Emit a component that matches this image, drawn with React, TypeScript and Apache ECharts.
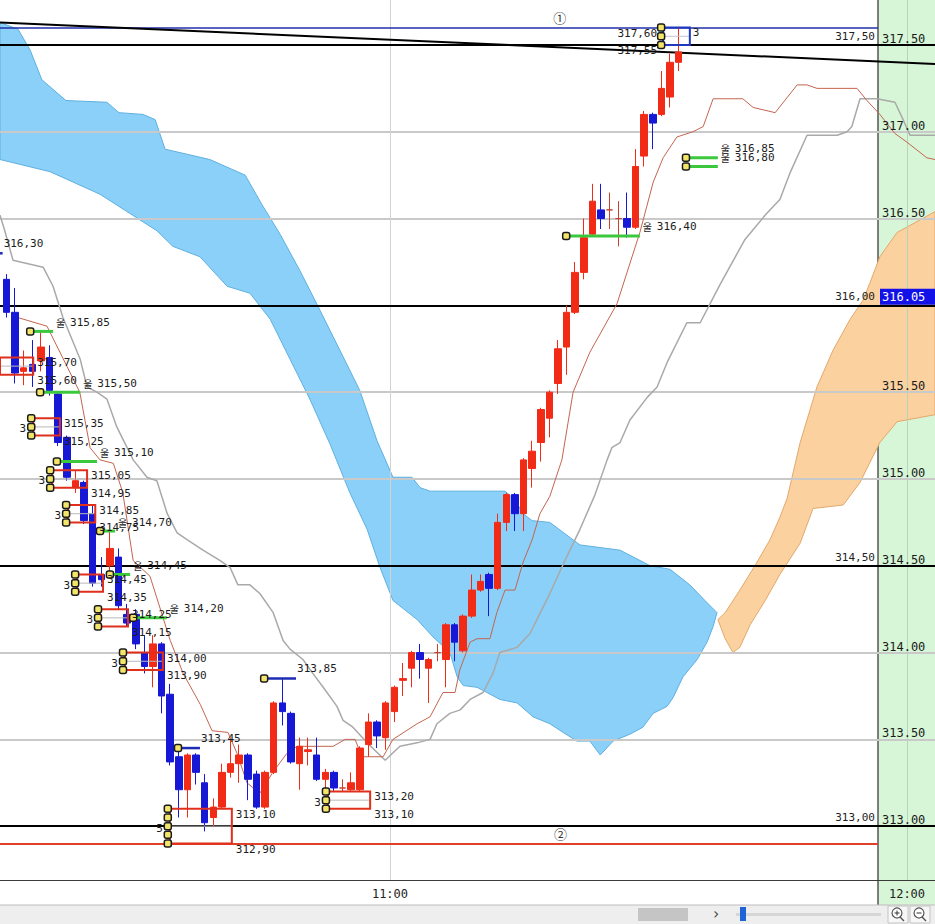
import React, { useEffect, useRef } from "react";
import * as echarts from "echarts";

// ---- time / price frame ----
const START_MINUTE = 10 * 60 + 15; // bar 0 = 10:15, one bar per minute
const X_MIN = -0.755;
const X_MAX = 107.75;
const Y_MIN = 312.69;
const Y_MAX = 317.759;

const timeTicks = ["11:00", "12:00"];
// the 316.00 scale label sits under the last-price tag, so it is left out
const priceTicks = [313.0, 313.5, 314.0, 314.5, 315.0, 315.5, 316.5, 317.0, 317.5];
const gridPrices = [313.5, 314.0, 315.0, 315.5, 316.5, 317.0];
const keyPrices = [313.0, 314.5, 316.0, 317.5];
const highLine = 317.6;
const lowLine = 312.9;
const lastTag = 316.05;
const trendLine = [
  [-0.755, 317.63],
  [107.75, 317.39],
];

// [open, close, low, high]
const candles = [
  [316.15, 315.96, 315.93, 316.18],
  [315.96, 315.61, 315.55, 316.1],
  [315.62, 315.64, 315.54, 315.74],
  [315.66, 315.62, 315.53, 315.8],
  [315.68, 315.76, 315.62, 315.85],
  [315.7, 315.51, 315.48, 315.77],
  [315.49, 315.21, 315.19, 315.5],
  [315.24, 315.01, 314.99, 315.25],
  [314.95, 314.99, 314.92, 315.05],
  [314.98, 314.76, 314.74, 314.99],
  [314.8, 314.4, 314.38, 314.85],
  [314.45, 314.42, 314.38, 314.55],
  [314.5, 314.6, 314.45, 314.7],
  [314.55, 314.27, 314.25, 314.6],
  [314.22, 314.17, 314.15, 314.28],
  [314.22, 314.05, 314.02, 314.25],
  [314.0, 313.92, 313.88, 314.1],
  [313.92, 314.05, 313.8, 314.1],
  [314.05, 313.75, 313.65, 314.06],
  [313.76, 313.37, 313.35, 313.82],
  [313.4, 313.21, 313.05, 313.45],
  [313.21, 313.41, 313.05, 313.42],
  [313.41, 313.31, 313.24, 313.42],
  [313.25, 313.02, 312.97, 313.3],
  [313.05, 313.11, 313.0, 313.16],
  [313.11, 313.31, 313.1, 313.36],
  [313.31, 313.36, 313.28, 313.5],
  [313.36, 313.41, 313.25, 313.47],
  [313.41, 313.27, 313.15, 313.42],
  [313.3, 313.11, 313.1, 313.32],
  [313.11, 313.31, 313.1, 313.32],
  [313.31, 313.71, 313.3, 313.72],
  [313.71, 313.66, 313.58, 313.85],
  [313.65, 313.37, 313.36, 313.66],
  [313.36, 313.46, 313.21, 313.51],
  [313.43, 313.44, 313.35, 313.51],
  [313.41, 313.27, 313.26, 313.51],
  [313.27, 313.31, 313.2, 313.33],
  [313.31, 313.22, 313.2, 313.32],
  [313.22, 313.22, 313.2, 313.27],
  [313.21, 313.25, 313.2, 313.31],
  [313.21, 313.45, 313.2, 313.46],
  [313.47, 313.6, 313.4, 313.65],
  [313.6, 313.52, 313.45, 313.61],
  [313.51, 313.71, 313.44, 313.72],
  [313.66, 313.8, 313.6, 313.81],
  [313.84, 313.85, 313.75, 313.94],
  [313.91, 314.0, 313.8, 314.01],
  [314.0, 313.96, 313.85, 314.05],
  [313.91, 313.96, 313.71, 313.97],
  [314.0, 314.0, 313.95, 314.05],
  [313.96, 314.16, 313.8, 314.17],
  [314.16, 314.06, 313.95, 314.17],
  [314.01, 314.21, 314.0, 314.22],
  [314.21, 314.36, 314.2, 314.45],
  [314.36, 314.41, 314.35, 314.45],
  [314.45, 314.37, 314.21, 314.46],
  [314.37, 314.75, 314.36, 314.8],
  [314.75, 314.91, 314.7, 314.92],
  [314.91, 314.8, 314.7, 314.92],
  [314.8, 315.11, 314.7, 315.12],
  [315.06, 315.16, 314.95, 315.22],
  [315.21, 315.4, 315.1, 315.41],
  [315.35, 315.5, 315.24, 315.51],
  [315.55, 315.75, 315.49, 315.8],
  [315.76, 315.96, 315.6, 316.0],
  [315.96, 316.19, 315.95, 316.25],
  [316.19, 316.39, 316.15, 316.5],
  [316.41, 316.6, 316.4, 316.7],
  [316.55, 316.5, 316.44, 316.7],
  [316.55, 316.55, 316.44, 316.65],
  [316.5, 316.5, 316.34, 316.6],
  [316.5, 316.45, 316.39, 316.65],
  [316.45, 316.8, 316.44, 316.9],
  [316.86, 317.1, 316.8, 317.12],
  [317.1, 317.05, 316.9, 317.11],
  [317.1, 317.25, 317.09, 317.35],
  [317.2, 317.4, 317.14, 317.45],
  [317.4, 317.46, 317.35, 317.6],
];

// [bar, price]
const fastLine = [
  [1.3, 315.93], [4.7, 315.88], [8.5, 315.5], [9.7, 315.18], [10.85, 315.11], [12.4, 315.09],
  [13.5, 314.92], [14.7, 314.53], [16.65, 314.44], [19.0, 314.07], [20.5, 313.88], [22.5, 313.7],
  [23.85, 313.55], [25.7, 313.54], [26.75, 313.42], [27.9, 313.25], [29.4, 313.19], [30.9, 313.31],
  [32.55, 313.42], [33.7, 313.46], [37.9, 313.46], [39.3, 313.5], [40.45, 313.5], [41.25, 313.4],
  [43.7, 313.4], [44.85, 313.5], [47.65, 313.59], [49.15, 313.63], [50.65, 313.77], [52.05, 313.77],
  [52.6, 313.9], [53.8, 314.06], [54.6, 314.08], [56.1, 314.08], [56.9, 314.23], [57.85, 314.36],
  [59.0, 314.36], [59.95, 314.52], [61.0, 314.65], [61.9, 314.8], [63.05, 314.9], [64.45, 315.11],
  [65.75, 315.5], [67.7, 315.73], [70.85, 316.01], [73.5, 316.42], [75.05, 316.71], [76.2, 316.85],
  [77.8, 316.97], [79.65, 317.0], [80.85, 317.03], [82.0, 317.19], [85.45, 317.19], [86.65, 317.14],
  [89.2, 317.11], [91.75, 317.27], [92.9, 317.27], [94.05, 317.25], [98.7, 317.25], [99.85, 317.18],
  [101.35, 317.1], [103.1, 316.99], [104.5, 316.94], [106.8, 316.85], [107.75, 316.84],
];

const slowLine = [
  [-0.755, 316.52], [-0.2, 316.43], [0.75, 316.26], [4.25, 316.22], [5.4, 316.11], [6.55, 315.93],
  [8.55, 315.69], [9.35, 315.53], [10.5, 315.5], [11.65, 315.46], [12.8, 315.3], [14.7, 315.11],
  [16.3, 315.01], [17.45, 314.99], [18.65, 314.8], [19.8, 314.69], [20.95, 314.65], [22.8, 314.59],
  [24.8, 314.53], [25.95, 314.49], [26.85, 314.39], [28.25, 314.39], [29.4, 314.34], [30.95, 314.23],
  [32.1, 314.07], [32.9, 314.02], [34.4, 313.96], [35.55, 313.88], [36.75, 313.8], [38.35, 313.69],
  [39.05, 313.61], [40.2, 313.57], [41.85, 313.48], [43.95, 313.38], [45.65, 313.46], [47.65, 313.48],
  [49.15, 313.5], [49.95, 313.59], [51.45, 313.65], [52.65, 313.67], [53.8, 313.73], [55.3, 313.77],
  [56.45, 313.88], [57.25, 314.0], [59.25, 314.03], [60.75, 314.11], [61.55, 314.19], [63.05, 314.34],
  [64.8, 314.53], [66.55, 314.71], [68.3, 314.91], [69.7, 315.11], [70.25, 315.18], [71.2, 315.21],
  [72.35, 315.34], [74.35, 315.47], [75.5, 315.53], [76.65, 315.67], [78.95, 315.9], [80.5, 315.9],
  [82.8, 316.12], [85.7, 316.38], [88.05, 316.52], [89.75, 316.61], [90.9, 316.76], [92.9, 316.98],
  [96.4, 316.98], [97.55, 317.0], [98.1, 317.03], [99.05, 317.19], [101.0, 317.19], [103.1, 317.17],
  [104.05, 317.07], [104.85, 316.98], [107.75, 316.98],
];

const blueCloudTop = [
  [-0.755, 317.63], [1.35, 317.59], [2.75, 317.47], [4.1, 317.3], [6.9, 317.18], [11.65, 317.17],
  [13.05, 317.11], [15.85, 317.1], [17.25, 317.07], [18.4, 316.9], [23.6, 316.84], [27.7, 316.75],
  [29.65, 316.58], [31.75, 316.41], [34.05, 316.2], [36.4, 315.97], [38.7, 315.74], [41.0, 315.51],
  [43.0, 315.22], [44.85, 315.01], [47.05, 315.01], [48.0, 314.95], [49.15, 314.93], [57.85, 314.93],
  [59.0, 314.88], [59.95, 314.8], [61.0, 314.76], [63.05, 314.75], [66.55, 314.62], [71.2, 314.59],
  [74.7, 314.5], [77.0, 314.48], [79.3, 314.39], [81.05, 314.3], [82.45, 314.23],
];
const blueCloudBottom = [
  [-0.755, 316.84], [5.05, 316.77], [10.85, 316.64], [17.45, 316.43], [19.3, 316.34], [22.45, 316.28],
  [25.6, 316.11], [28.25, 316.07], [30.6, 315.92], [32.9, 315.69], [35.2, 315.46], [37.55, 315.2],
  [39.85, 314.92], [41.85, 314.71], [43.35, 314.49], [44.85, 314.3], [47.65, 314.19], [49.5, 314.09],
  [51.45, 314.0], [52.3, 313.86], [53.0, 313.81], [54.6, 313.8], [55.75, 313.77], [57.25, 313.73],
  [59.25, 313.71], [61.1, 313.63], [63.05, 313.59], [64.6, 313.54], [66.2, 313.49], [67.7, 313.49],
  [68.9, 313.41], [70.4, 313.49], [72.35, 313.53], [73.85, 313.57], [75.05, 313.65], [76.65, 313.69],
  [77.35, 313.74], [78.5, 313.86], [80.15, 313.96], [81.3, 314.06], [82.0, 314.15], [82.45, 314.23],
];
const orangeCloudTop = [
  [82.55, 314.19], [83.4, 314.23], [85.1, 314.36], [86.85, 314.5], [88.6, 314.65], [89.75, 314.78],
  [90.6, 314.89], [92.1, 315.21], [94.05, 315.53], [95.9, 315.74], [97.9, 315.92], [99.4, 316.03],
  [100.2, 316.13], [101.35, 316.28], [103.35, 316.42], [105.2, 316.47], [107.75, 316.54],
];
const orangeCloudBottom = [
  [82.55, 314.19], [83.4, 314.08], [84.3, 314.0], [85.1, 314.03], [86.3, 314.16], [88.05, 314.3],
  [89.75, 314.45], [92.1, 314.63], [93.6, 314.83], [97.1, 314.85], [99.05, 314.98], [101.35, 315.21],
  [103.35, 315.33], [107.75, 315.37],
];

// [fromBar, toBar, price]
const greenMarks = [
  [2.75, 5.4, 315.85],
  [3.9, 8.55, 315.5],
  [5.85, 10.5, 315.1],
  [10.85, 12.6, 314.7],
  [12.0, 14.35, 314.45],
  [14.7, 18.6, 314.2],
  [64.95, 73.5, 316.4],
  [78.85, 82.55, 316.85],
  [78.85, 82.55, 316.8],
];
const blueMarks = [
  [-3.0, -0.45, 316.3],
  [19.9, 22.45, 313.45],
  [29.9, 33.6, 313.85],
];
// [fromBar, toBar, top, bottom, count]
const redBoxes = [
  [-0.755, 3.1, 315.7, 315.6, 0],
  [3.1, 6.2, 315.35, 315.25, 3],
  [5.3, 9.35, 315.05, 314.95, 3],
  [7.15, 10.3, 314.85, 314.75, 3],
  [8.2, 11.2, 314.45, 314.35, 3],
  [10.85, 14.1, 314.25, 314.15, 3],
  [13.75, 18.15, 314.0, 313.9, 3],
  [18.95, 26.15, 313.1, 312.9, 5],
  [37.3, 42.2, 313.2, 313.1, 3],
];
// [fromBar, toBar, top, bottom, count, lowerQuote]
const capBoxes = [[76.2, 79.3, 317.6, 317.5, 3, 317.55]];
// [bar, price]
const noteSpots = [
  [64.2, 317.66],
  [64.3, 312.955],
];
const noteTexts = ["①", "②"];

// ---- styling ----
const MONO = '"DejaVu Sans Mono", monospace';
const KR = '"Noto Sans CJK KR", sans-serif';
const UP = "#f22b17";
const DOWN = "#1717d6";
const PANEL_X = 878;
const PANEL_BAR = X_MIN + (PANEL_X / 935) * (X_MAX - X_MIN);

const fmtComma = (v: number) => v.toFixed(2).replace(".", ",");
const tickToBar = (t: string) => {
  const [h, m] = t.split(":").map(Number);
  return h * 60 + m - START_MINUTE - 0.5;
};

function textEl(x: number, y: number, text: string, opts: any = {}) {
  const align = opts.align ?? "left";
  return {
    type: "text",
    x,
    y,
    z2: 10,
    style: {
      text,
      fill: opts.color ?? "#1c1c1c",
      font: `${opts.size ?? 11}px ${opts.family ?? MONO}`,
      align,
      verticalAlign: "middle",
      textAlign: align,
      textVerticalAlign: "middle",
    },
  };
}

function dotEl(cx: number, cy: number) {
  return {
    type: "rect",
    z2: 8,
    shape: { x: cx - 3.5, y: cy - 3.5, width: 7, height: 7, r: 2 },
    style: { fill: "#f3e46a", stroke: "#1b1b1b", lineWidth: 1.5 },
  };
}

function cloudSeries(top: number[][], bottom: number[][], fill: string, stroke: string) {
  return {
    type: "custom",
    silent: true,
    z: 1,
    data: [top[0]],
    encode: { x: 0, y: 1 },
    renderItem: (_p: any, api: any) => ({
      type: "polygon",
      shape: { points: [...top, ...bottom.slice().reverse()].map((p) => api.coord(p)) },
      style: { fill, stroke, lineWidth: 1 },
    }),
  };
}

function hSeg(a: number, b: number, price: number, color: string, width: number, labelled = false) {
  return [
    {
      coord: [a, price],
      lineStyle: { color, width, type: "solid" },
      label: labelled
        ? {
            show: true,
            position: "insideEndTop",
            formatter: fmtComma(price),
            color: "#1e1e1e",
            fontSize: 11,
            fontFamily: MONO,
            distance: 3,
          }
        : { show: false },
    },
    { coord: [b, price] },
  ];
}

function buildOption() {
  const markLines: any[] = [];
  gridPrices.forEach((p) => markLines.push(hSeg(X_MIN, X_MAX, p, "#c9c9c9", 2)));
  timeTicks.forEach((t, i) => {
    const bar = tickToBar(t);
    markLines.push([
      { coord: [bar, Y_MIN], lineStyle: { color: i === 0 ? "#d2d2d2" : "#b8d4b8", width: 1, type: "solid" }, label: { show: false } },
      { coord: [bar, Y_MAX] },
    ]);
  });
  keyPrices.forEach((p) => {
    markLines.push(hSeg(X_MIN, PANEL_BAR, p, "#000", 2, true));
    markLines.push(hSeg(PANEL_BAR, X_MAX, p, "#000", 2));
  });
  markLines.push(hSeg(X_MIN, PANEL_BAR, highLine, "#1f2fa8", 1.5));
  markLines.push(hSeg(X_MIN, PANEL_BAR, lowLine, "#e04028", 2));
  markLines.push([
    { coord: trendLine[0], lineStyle: { color: "#000", width: 2, type: "solid" }, label: { show: false } },
    { coord: trendLine[1] },
  ]);

  return {
    animation: false,
    backgroundColor: "#ffffff",
    grid: { left: 0, right: 0, top: 0, bottom: 44, containLabel: false, outerBoundsMode: "none" },
    xAxis: {
      type: "value",
      min: X_MIN,
      max: X_MAX,
      z: 10,
      axisLine: { show: true, onZero: false, lineStyle: { color: "#3a3a3a", width: 1 } },
      axisTick: { show: false },
      splitLine: { show: false },
      axisLabel: {
        customValues: timeTicks.map(tickToBar),
        formatter: (v: number) => timeTicks[timeTicks.map(tickToBar).indexOf(v)] ?? "",
        color: "#222",
        fontSize: 12,
        fontFamily: MONO,
        margin: 8,
      },
    },
    yAxis: {
      type: "value",
      position: "right",
      offset: -(935 - PANEL_X),
      min: Y_MIN,
      max: Y_MAX,
      z: 10,
      axisLine: { show: false },
      axisTick: { show: false },
      splitLine: { show: false },
      axisLabel: {
        customValues: priceTicks,
        formatter: (v: number) => v.toFixed(2),
        color: "#1a1a1a",
        fontSize: 12,
        fontFamily: MONO,
        margin: 4,
        verticalAlign: "bottom",
      },
    },
    graphic: {
      elements: [
        { type: "rect", z: 0, silent: true, shape: { x: PANEL_X, y: 0, width: 935 - PANEL_X, height: 905 }, style: { fill: "#d7f6d7" } },
        { type: "line", z: 0, silent: true, shape: { x1: PANEL_X, y1: 0, x2: PANEL_X, y2: 905 }, style: { stroke: "#555", lineWidth: 1.5 } },
        { type: "rect", z: 0, silent: true, shape: { x: 0, y: 905, width: 935, height: 19 }, style: { fill: "#eeeeee" } },
        { type: "line", z: 0, silent: true, shape: { x1: 0, y1: 905, x2: 935, y2: 905 }, style: { stroke: "#bdbdbd", lineWidth: 1 } },
        { type: "rect", z: 1, silent: true, shape: { x: 638, y: 908, width: 50, height: 13 }, style: { fill: "#c5c5c5" } },
        { type: "text", z: 1, silent: true, x: 716, y: 914, style: { text: "›", fill: "#444", font: `15px ${MONO}`, align: "center", verticalAlign: "middle", textAlign: "center", textVerticalAlign: "middle" } },
        { type: "rect", z: 1, silent: true, shape: { x: 736, y: 913, width: 145, height: 3 }, style: { fill: "#d6d6d6" } },
        { type: "rect", z: 1, silent: true, shape: { x: 740, y: 907, width: 6, height: 14 }, style: { fill: "#1f63d6" } },
        { type: "rect", z: 1, silent: true, shape: { x: 888, y: 906, width: 20, height: 17 }, style: { fill: "#f7f7f7", stroke: "#c4c4c4", lineWidth: 1 } },
        { type: "rect", z: 1, silent: true, shape: { x: 910, y: 906, width: 20, height: 17 }, style: { fill: "#f7f7f7", stroke: "#c4c4c4", lineWidth: 1 } },
        { type: "circle", z: 1, silent: true, shape: { cx: 897, cy: 913, r: 5 }, style: { fill: "#fff", stroke: "#555", lineWidth: 1.2 } },
        { type: "circle", z: 1, silent: true, shape: { cx: 919, cy: 913, r: 5 }, style: { fill: "#fff", stroke: "#555", lineWidth: 1.2 } },
        { type: "line", z: 1, silent: true, shape: { x1: 900, y1: 917, x2: 904, y2: 921 }, style: { stroke: "#555", lineWidth: 1.5 } },
        { type: "line", z: 1, silent: true, shape: { x1: 922, y1: 917, x2: 926, y2: 921 }, style: { stroke: "#555", lineWidth: 1.5 } },
        { type: "line", z: 1, silent: true, shape: { x1: 894.5, y1: 913, x2: 899.5, y2: 913 }, style: { stroke: "#333", lineWidth: 1 } },
        { type: "line", z: 1, silent: true, shape: { x1: 897, y1: 910.5, x2: 897, y2: 915.5 }, style: { stroke: "#333", lineWidth: 1 } },
        { type: "line", z: 1, silent: true, shape: { x1: 916.5, y1: 913, x2: 921.5, y2: 913 }, style: { stroke: "#333", lineWidth: 1 } },
      ],
    },
    series: [
      cloudSeries(blueCloudTop, blueCloudBottom, "#8ad0f8", "#5fb0e0"),
      cloudSeries(orangeCloudTop, orangeCloudBottom, "#fcd1a0", "#e3a86a"),
      {
        type: "line",
        data: slowLine,
        symbol: "none",
        silent: true,
        z: 3,
        lineStyle: { color: "#a9a9a9", width: 1.5 },
      },
      {
        type: "line",
        data: fastLine,
        symbol: "none",
        silent: true,
        z: 3,
        lineStyle: { color: "#c4654f", width: 1 },
      },
      {
        type: "candlestick",
        data: candles.map((c, i) => [i, ...c]),
        barWidth: 7,
        silent: true,
        z: 4,
        itemStyle: {
          color: UP,
          color0: DOWN,
          borderColor: UP,
          borderColor0: DOWN,
          borderColorDoji: "#c9402c",
          borderWidth: 1,
        },
        markLine: {
          silent: true,
          z: 2,
          symbol: ["none", "none"],
          label: { show: false },
          data: markLines,
        },
      },
      {
        type: "custom",
        silent: true,
        z: 5,
        data: greenMarks,
        encode: { x: [0, 1], y: 2 },
        renderItem: (_p: any, api: any) => {
          const price = api.value(2);
          const [x0, y] = api.coord([api.value(0), price]);
          const [x1] = api.coord([api.value(1), price]);
          return {
            type: "group",
            children: [
              { type: "line", shape: { x1: x0, y1: y, x2: x1, y2: y }, style: { stroke: "#3cc83c", lineWidth: 3 } },
              dotEl(x0, y),
              textEl(x1 + 3, y - 9, "울", { family: KR, size: 10 }),
              textEl(x1 + 17, y - 9, fmtComma(price)),
            ],
          };
        },
      },
      {
        type: "custom",
        silent: true,
        clip: true,
        z: 5,
        data: blueMarks,
        encode: { x: [0, 1], y: 2 },
        renderItem: (_p: any, api: any) => {
          const price = api.value(2);
          const [x0, y] = api.coord([api.value(0), price]);
          const [x1] = api.coord([api.value(1), price]);
          return {
            type: "group",
            children: [
              { type: "line", shape: { x1: x0, y1: y, x2: x1, y2: y }, style: { stroke: "#1c2cb4", lineWidth: 2.5 } },
              dotEl(x0, y),
              textEl(x1 + 1, y - 10, fmtComma(price)),
            ],
          };
        },
      },
      {
        type: "custom",
        silent: true,
        clip: true,
        z: 5,
        data: redBoxes,
        encode: { x: [0, 1], y: [2, 3] },
        renderItem: (_p: any, api: any) => {
          const top = api.value(2);
          const bottom = api.value(3);
          const count = api.value(4);
          const [x0, yt] = api.coord([api.value(0), top]);
          const [x1, yb] = api.coord([api.value(1), bottom]);
          const children: any[] = [
            { type: "line", shape: { x1: x0, y1: (yt + yb) / 2, x2: x1, y2: (yt + yb) / 2 }, style: { stroke: "#b9b9b9", lineWidth: 1 } },
            { type: "rect", shape: { x: x0, y: yt, width: x1 - x0, height: yb - yt }, style: { fill: "none", stroke: "#e0301c", lineWidth: 2 } },
            textEl(x1 + 4, yt + 5.5, fmtComma(top)),
            textEl(x1 + 4, yb + 5.5, fmtComma(bottom)),
          ];
          for (let k = 0; k < count; k++) {
            children.push(dotEl(x0 - 2, yt + ((yb - yt) * k) / (count - 1)));
          }
          if (count > 0) children.push(textEl(x0 - 7, (yt + yb) / 2 + 2, String(count), { align: "right" }));
          return { type: "group", children };
        },
      },
      {
        type: "custom",
        silent: true,
        z: 5,
        data: capBoxes,
        encode: { x: [0, 1], y: [2, 3] },
        renderItem: (_p: any, api: any) => {
          const top = api.value(2);
          const bottom = api.value(3);
          const count = api.value(4);
          const [x0, yt] = api.coord([api.value(0), top]);
          const [x1, yb] = api.coord([api.value(1), bottom]);
          const children: any[] = [
            { type: "line", shape: { x1: x0, y1: (yt + yb) / 2, x2: x1, y2: (yt + yb) / 2 }, style: { stroke: "#c2c2d8", lineWidth: 1 } },
            { type: "rect", shape: { x: x0, y: yt, width: x1 - x0, height: yb - yt }, style: { fill: "none", stroke: "#2038c0", lineWidth: 2 } },
            textEl(x0 - 6, yt + 5.5, fmtComma(top), { align: "right" }),
            textEl(x0 - 6, yb + 5.5, fmtComma(api.value(5)), { align: "right" }),
            textEl(x1 + 3, yt + 5, String(count)),
          ];
          for (let k = 0; k < count; k++) {
            children.push(dotEl(x0 - 2, yt + ((yb - yt) * k) / (count - 1)));
          }
          return { type: "group", children };
        },
      },
      {
        type: "custom",
        silent: true,
        z: 5,
        data: noteSpots,
        encode: { x: 0, y: 1 },
        renderItem: (p: any, api: any) => {
          const [x, y] = api.coord([api.value(0), api.value(1)]);
          return textEl(x, y, noteTexts[p.dataIndex], { align: "center", family: KR, size: 13, color: "#333" });
        },
      },
      {
        type: "custom",
        silent: true,
        z: 20,
        data: [[X_MAX, lastTag]],
        encode: { x: 0, y: 1 },
        renderItem: (_p: any, api: any) => {
          const y = api.coord([X_MAX, api.value(1)])[1];
          const x = api.coord([PANEL_BAR, api.value(1)])[0] + 2;
          return {
            type: "group",
            children: [
              { type: "rect", shape: { x, y: y - 8, width: api.getWidth() - x, height: 16 }, style: { fill: "#1212e8" } },
              textEl(x + 2, y, lastTag.toFixed(2), { color: "#ffffff", size: 12 }),
            ],
          };
        },
      },
    ],
  };
}

export default function App() {
  const ref = useRef<HTMLDivElement>(null);
  useEffect(() => {
    if (!ref.current) return;
    const chart = echarts.init(ref.current, null, { renderer: "svg" });
    chart.setOption(buildOption() as any);
    return () => chart.dispose();
  }, []);
  return (
    <div
      ref={ref}
      style={{ position: "fixed", left: 0, top: 0, width: 935, height: 924, background: "#fff" }}
    />
  );
}
